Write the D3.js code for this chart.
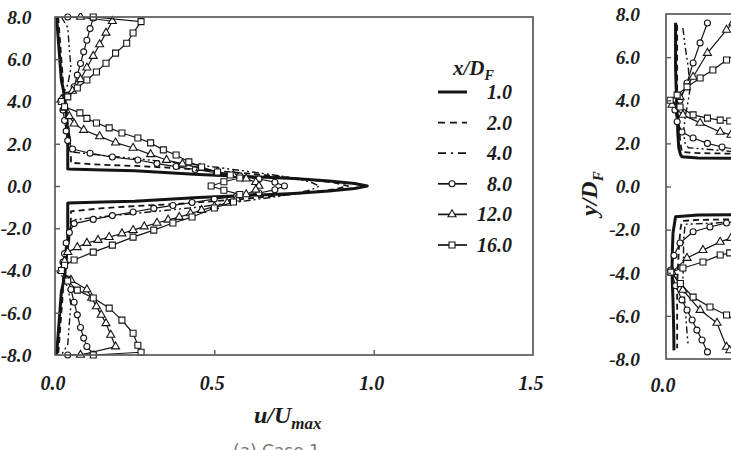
<!DOCTYPE html>
<html><head><meta charset="utf-8">
<script src="https://cdn.jsdelivr.net/npm/d3@7"></script>
<style>body{margin:0;background:#fff;} svg{display:block;}</style>
</head><body>
<svg id="c" width="731" height="450"></svg>
<script>
// ---------- DATA ----------
const seriesLabels = ["1.0", "2.0", "4.0", "8.0", "12.0", "16.0"];
const xTickValues = [0, 0.5, 1.0, 1.5];
const xTickLabels = ["0.0", "0.5", "1.0", "1.5"];
const yTickValues = [8, 6, 4, 2, 0, -2, -4, -6, -8];
const yTickLabels = ["8.0", "6.0", "4.0", "2.0", "0.0", "-2.0", "-4.0", "-6.0", "-8.0"];

// Panel (a) — u/Umax (u) against y/D_F (y)
const a1_y = [8, 7, 6, 5, 4.3, 3.5, 2.5, 1.5, 0.8, 0.76, 0.72, 0.65, 0.55, 0.45, 0.35, 0.24, 0.12, 0, -0.12, -0.24, -0.35, -0.45, -0.55, -0.65, -0.72, -0.76, -0.8, -1.5, -2.5, -3.5, -4.3, -5, -6, -7, -8];
const a1_u = [0.005, 0.01, 0.015, 0.02, 0.03, 0.035, 0.04, 0.04, 0.04, 0.15, 0.25, 0.33, 0.45, 0.6, 0.75, 0.86, 0.94, 0.98, 0.94, 0.86, 0.75, 0.6, 0.45, 0.33, 0.25, 0.15, 0.04, 0.04, 0.04, 0.035, 0.03, 0.02, 0.015, 0.01, 0.005];

const a2_y = [8, 7, 6, 5, 4.3, 3.5, 2.5, 1.5, 1.1, 1.0, 0.95, 0.85, 0.72, 0.6, 0.45, 0.3, 0.15, 0, -0.15, -0.3, -0.45, -0.6, -0.72, -0.85, -0.95, -1.05, -1.2, -1.5, -2.5, -3.5, -4.3, -5, -6, -7, -8];
const a2_u = [0.01, 0.015, 0.02, 0.025, 0.025, 0.035, 0.045, 0.05, 0.05, 0.15, 0.25, 0.38, 0.5, 0.6, 0.7, 0.8, 0.88, 0.92, 0.88, 0.8, 0.7, 0.6, 0.5, 0.38, 0.25, 0.15, 0.05, 0.05, 0.045, 0.035, 0.025, 0.025, 0.02, 0.015, 0.01];

const a3_y = [8, 7.5, 6.5, 5.6, 4.8, 4.2, 3.5, 2.5, 1.8, 1.6, 1.45, 1.3, 1.15, 1.0, 0.8, 0.6, 0.4, 0.2, 0, -0.2, -0.4, -0.6, -0.8, -1.0, -1.15, -1.3, -1.45, -1.6, -1.8, -2.5, -3.5, -4.2, -4.8, -5.6, -6.5, -7.5, -8];
const a3_u = [0.02, 0.04, 0.045, 0.05, 0.04, 0.02, 0.035, 0.045, 0.05, 0.06, 0.15, 0.25, 0.35, 0.45, 0.55, 0.65, 0.74, 0.8, 0.83, 0.8, 0.74, 0.65, 0.55, 0.45, 0.35, 0.25, 0.15, 0.06, 0.05, 0.045, 0.035, 0.02, 0.04, 0.05, 0.045, 0.04, 0.02];

const a4_y = [8.0, 7.95, 7.45, 6.9, 6.35, 5.8, 5.25, 4.7, 4.3, 4.0, 3.6, 3.1, 2.6, 2.15, 1.75, 1.55, 1.37, 1.23, 1.06, 0.92, 0.78, 0.62, 0.48, 0.33, 0.18, 0, -0.18, -0.33, -0.48, -0.62, -0.78, -0.92, -1.06, -1.23, -1.4, -1.58, -1.78, -2.2, -2.7, -3.2, -3.6, -4.0, -4.4, -4.9, -5.5, -6.1, -6.7, -7.2, -7.6, -7.95, -8.0];
const a4_u = [0.04, 0.12, 0.11, 0.1, 0.09, 0.08, 0.07, 0.06, 0.04, 0.02, 0.025, 0.03, 0.035, 0.04, 0.055, 0.11, 0.18, 0.26, 0.32, 0.38, 0.44, 0.51, 0.58, 0.64, 0.69, 0.72, 0.69, 0.64, 0.57, 0.5, 0.43, 0.37, 0.31, 0.245, 0.18, 0.12, 0.06, 0.045, 0.035, 0.03, 0.025, 0.02, 0.04, 0.05, 0.06, 0.07, 0.08, 0.09, 0.1, 0.12, 0.04];

const a5_y = [8.0, 7.8, 7.25, 6.7, 6.15, 5.6, 5.05, 4.5, 4.1, 3.7, 3.3, 2.95, 2.65, 2.35, 2.05, 1.8, 1.5, 1.23, 1.05, 0.85, 0.68, 0.52, 0.35, 0.18, 0, -0.18, -0.4, -0.6, -0.8, -0.97, -1.14, -1.3, -1.47, -1.6, -1.75, -1.92, -2.09, -2.25, -2.42, -2.56, -2.7, -2.9, -3.13, -3.55, -4.0, -4.45, -4.9, -5.3, -5.7, -6.1, -6.5, -7.05, -7.6, -8.0];
const a5_u = [0.08, 0.18, 0.16, 0.14, 0.12, 0.1, 0.08, 0.055, 0.02, 0.03, 0.045, 0.06, 0.09, 0.14, 0.19, 0.245, 0.3, 0.35, 0.4, 0.455, 0.51, 0.56, 0.6, 0.63, 0.64, 0.63, 0.6, 0.57, 0.54, 0.5, 0.46, 0.425, 0.39, 0.355, 0.32, 0.28, 0.245, 0.21, 0.17, 0.135, 0.1, 0.07, 0.04, 0.03, 0.02, 0.05, 0.1, 0.115, 0.13, 0.145, 0.16, 0.175, 0.19, 0.08];

const a6_y = [8.0, 7.78, 7.24, 6.76, 6.29, 5.81, 5.4, 5.02, 4.64, 4.22, 4.0, 3.75, 3.46, 3.2, 2.98, 2.75, 2.51, 2.27, 2.04, 1.71, 1.47, 1.14, 0.9, 0.66, 0.52, 0.38, 0.2, 0, -0.2, -0.4, -0.76, -1.04, -1.47, -1.75, -2.09, -2.42, -2.8, -3.13, -3.5, -3.75, -4.0, -4.5, -4.93, -5.3, -5.78, -6.35, -6.97, -7.54, -7.87, -8.0];
const a6_u = [0.12, 0.27, 0.245, 0.225, 0.19, 0.16, 0.13, 0.1, 0.07, 0.04, 0.02, 0.03, 0.078, 0.1, 0.13, 0.17, 0.21, 0.26, 0.3, 0.34, 0.38, 0.42, 0.46, 0.51, 0.55, 0.58, 0.53, 0.49, 0.53, 0.58, 0.56, 0.5, 0.43, 0.37, 0.31, 0.245, 0.18, 0.12, 0.06, 0.03, 0.02, 0.04, 0.07, 0.12, 0.17, 0.21, 0.245, 0.26, 0.27, 0.12];

// Panel (b) (partly visible at the right edge)
const b1_y = [7.6, 6.5, 5.5, 4.5, 3.5, 2.5, 1.8, 1.5, 1.38, 1.32, 1.3, 1.25, 1.0, 0.5, 0, -0.5, -1.0, -1.25, -1.3, -1.32, -1.4, -2.15, -3.0, -3.74, -4.5, -5.27, -6.5, -7.6];
const b1_u = [0.03, 0.03, 0.03, 0.032, 0.035, 0.037, 0.04, 0.045, 0.05, 0.1, 0.3, 0.5, 0.75, 0.92, 1.0, 0.92, 0.75, 0.5, 0.3, 0.1, 0.03, 0.022, 0.02, 0.019, 0.02, 0.022, 0.024, 0.025];

const b2_y = [7.5, 6, 4.5, 3, 2, 1.6, 1.55, 1.5, 1.2, 0.6, 0, -0.6, -1.2, -1.5, -1.55, -1.6, -2, -3, -4.5, -6, -7.5];
const b2_u = [0.035, 0.035, 0.035, 0.04, 0.045, 0.05, 0.1, 0.3, 0.6, 0.85, 0.93, 0.85, 0.6, 0.3, 0.1, 0.05, 0.045, 0.04, 0.035, 0.035, 0.035];

const b3_y = [7.35, 6.5, 5.5, 4.5, 4.0, 3.2, 2.5, 2.0, 1.8, 1.7, 1.5, 1.0, 0.5, 0, -0.5, -1.0, -1.5, -1.7, -1.75, -2.5, -3.5, -4.3, -5.5, -6.8, -7.4];
const b3_u = [0.053, 0.06, 0.07, 0.075, 0.07, 0.06, 0.055, 0.06, 0.07, 0.15, 0.3, 0.6, 0.8, 0.86, 0.8, 0.6, 0.3, 0.15, 0.06, 0.055, 0.055, 0.053, 0.06, 0.066, 0.07];

const b4_y = [7.58, 6.66, 5.73, 4.8, 4.0, 3.55, 3.0, 2.53, 2.25, 2.0, 1.83, 1.7, 1.5, 1.2, 0.8, 0.4, 0, -0.4, -0.8, -1.2, -1.5, -1.69, -1.88, -2.1, -2.62, -3.2, -3.87, -4.6, -5.26, -5.73, -6.19, -6.66, -7.12, -7.67];
const b4_u = [0.13, 0.107, 0.085, 0.066, 0.044, 0.028, 0.035, 0.05, 0.085, 0.13, 0.176, 0.23, 0.32, 0.45, 0.6, 0.7, 0.74, 0.7, 0.6, 0.45, 0.3, 0.19, 0.138, 0.085, 0.044, 0.025, 0.015, 0.03, 0.05, 0.066, 0.082, 0.097, 0.113, 0.13];

const b5_y = [7.6, 7.26, 6.19, 5.08, 4.15, 3.78, 3.32, 2.95, 2.53, 2.39, 2.1, 1.8, 1.4, 0.9, 0.4, 0, -0.4, -0.9, -1.4, -1.8, -2.1, -2.39, -2.57, -2.95, -3.32, -3.97, -4.8, -5.73, -6.33, -7.44, -7.6];
const b5_u = [0.21, 0.19, 0.13, 0.085, 0.044, 0.019, 0.053, 0.107, 0.17, 0.204, 0.27, 0.34, 0.43, 0.53, 0.6, 0.62, 0.6, 0.53, 0.43, 0.34, 0.27, 0.204, 0.17, 0.116, 0.066, 0.019, 0.053, 0.107, 0.16, 0.19, 0.2];

const b6_y = [7.6, 6.8, 5.87, 5.4, 5.03, 4.62, 4.24, 4.0, 3.69, 3.32, 3.17, 3.08, 3.04, 2.9, 2.5, 2.0, 1.4, 0.7, 0, -0.7, -1.4, -2.0, -2.5, -2.9, -3.08, -3.18, -3.5, -3.78, -3.97, -4.5, -5.13, -5.59, -5.96, -6.5, -7.2, -7.6];
const b6_u = [0.36, 0.29, 0.19, 0.147, 0.107, 0.066, 0.035, 0.013, 0.044, 0.085, 0.13, 0.17, 0.2, 0.26, 0.34, 0.42, 0.48, 0.52, 0.53, 0.52, 0.48, 0.42, 0.34, 0.26, 0.2, 0.17, 0.116, 0.053, 0.015, 0.045, 0.085, 0.138, 0.19, 0.25, 0.31, 0.34];

const panelA = [[a1_u, a1_y], [a2_u, a2_y], [a3_u, a3_y], [a4_u, a4_y], [a5_u, a5_y], [a6_u, a6_y]];
const panelB = [[b1_u, b1_y], [b2_u, b2_y], [b3_u, b3_y], [b4_u, b4_y], [b5_u, b5_y], [b6_u, b6_y]];

// ---------- STYLE ----------
const styles = [
  {w: 3.0, dash: null, marker: null},
  {w: 1.8, dash: "6,4", marker: null},
  {w: 1.4, dash: "7,3,2,3,2,3", marker: null},
  {w: 1.2, dash: null, marker: "circle"},
  {w: 1.2, dash: null, marker: "triangle"},
  {w: 1.2, dash: null, marker: "square"}
];
const ink = "#141414";
const frameColor = "#5a5a5a";
const tickFont = "'Liberation Serif','Times New Roman',serif";

const svg = d3.select("#c");

function drawMarker(g, type, x, y) {
  if (type === "circle") {
    g.append("circle").attr("cx", x).attr("cy", y).attr("r", 3)
      .attr("fill", "#fff").attr("stroke", ink).attr("stroke-width", 1.1);
  } else {
    const sym = type === "triangle" ? d3.symbolTriangle : d3.symbolSquare;
    const size = type === "triangle" ? 28 : 36;
    g.append("path").attr("d", d3.symbol().type(sym).size(size)())
      .attr("transform", `translate(${x},${y})`)
      .attr("fill", "#fff").attr("stroke", ink).attr("stroke-width", 1.1);
  }
}

function drawPanel(id, data, x, y) {
  const clipId = "clip-" + id;
  svg.append("clipPath").attr("id", clipId).append("rect")
    .attr("x", x.range()[0] - 4).attr("y", y.range()[1] - 4)
    .attr("width", x.range()[1] - x.range()[0] + 8)
    .attr("height", y.range()[0] - y.range()[1] + 8);
  const g = svg.append("g").attr("clip-path", `url(#${clipId})`);
  const line = d3.line().x(d => x(d[0])).y(d => y(d[1]));
  data.forEach((s, i) => {
    const pts = s[0].map((u, k) => [u, s[1][k]]);
    const st = styles[i];
    g.append("path").attr("d", line(pts)).attr("fill", "none")
      .attr("stroke", ink).attr("stroke-width", st.w)
      .attr("stroke-linejoin", "round")
      .attr("stroke-dasharray", st.dash);
    if (st.marker) pts.forEach(p => drawMarker(g, st.marker, x(p[0]), y(p[1])));
  });
  svg.append("rect").attr("x", x.range()[0]).attr("y", y.range()[1])
    .attr("width", x.range()[1] - x.range()[0]).attr("height", y.range()[0] - y.range()[1])
    .attr("fill", "none").attr("stroke", frameColor).attr("stroke-width", 1.7);
  const axL = d3.axisRight(y).tickValues(yTickValues.slice(1, -1)).tickSize(5).tickFormat("");
  const gl = svg.append("g").attr("transform", `translate(${x.range()[0]},0)`).call(axL);
  gl.select(".domain").remove();
  gl.selectAll("line").attr("stroke", frameColor).attr("stroke-width", 1.4);
  const axB = d3.axisTop(x).tickValues(xTickValues.slice(1, -1)).tickSize(5).tickFormat("");
  const gb = svg.append("g").attr("transform", `translate(0,${y.range()[0]})`).call(axB);
  gb.select(".domain").remove();
  gb.selectAll("line").attr("stroke", frameColor).attr("stroke-width", 1.4);
}

const xA = d3.scaleLinear().domain([0, 1.5]).range([55, 533]);
const yA = d3.scaleLinear().domain([-8, 8]).range([355, 17]);
drawPanel("a", panelA, xA, yA);

const xB = d3.scaleLinear().domain([0, 1.5]).range([666, 1144]);
const yB = d3.scaleLinear().domain([-8, 8]).range([359, 14]);
drawPanel("b", panelB, xB, yB);

const lab = (sel) => sel.attr("font-family", tickFont).attr("font-weight", "bold")
  .attr("font-style", "italic").attr("fill", "#1c1c1c");

yTickValues.forEach((v, i) => {
  lab(svg.append("text")).attr("x", 31.5).attr("y", yA(v)).attr("dy", "0.35em")
    .attr("text-anchor", "end").attr("font-size", 19.5).text(yTickLabels[i]);
  lab(svg.append("text")).attr("x", 640).attr("y", yB(v)).attr("dy", "0.35em")
    .attr("text-anchor", "end").attr("font-size", 19.5).text(yTickLabels[i]);
});
xTickValues.forEach((v, i) => {
  lab(svg.append("text")).attr("x", xA(v) - 2).attr("y", 390)
    .attr("text-anchor", "middle").attr("font-size", 20).text(xTickLabels[i]);
});
lab(svg.append("text")).attr("x", xB(0) - 3).attr("y", 392)
  .attr("text-anchor", "middle").attr("font-size", 20).text(xTickLabels[0]);

const xt = lab(svg.append("text")).attr("x", 254).attr("y", 423).attr("font-size", 24);
xt.append("tspan").text("u/U");
xt.append("tspan").attr("font-size", 17).attr("dy", 6).text("max");

const yt = lab(svg.append("text")).attr("transform", "translate(597,216) rotate(-90)")
  .attr("font-size", 24);
yt.append("tspan").text("y/D");
yt.append("tspan").attr("font-size", 15).attr("dy", 6).text("F");

const lgTitle = lab(svg.append("text")).attr("x", 453).attr("y", 75).attr("font-size", 21);
lgTitle.append("tspan").text("x/D");
lgTitle.append("tspan").attr("font-size", 14).attr("dy", 5).text("F");
const legY = d3.scalePoint().domain(seriesLabels).range([92, 245]);
seriesLabels.forEach((s, i) => {
  const yy = legY(s);
  const st = styles[i];
  svg.append("line").attr("x1", 438).attr("x2", 467).attr("y1", yy).attr("y2", yy)
    .attr("stroke", ink).attr("stroke-width", i === 0 ? 3 : 1.7)
    .attr("stroke-dasharray", i === 1 ? "7,5" : (i === 2 ? "8,5,2,5" : null));
  if (st.marker) drawMarker(svg, st.marker, 452, yy);
  lab(svg.append("text")).attr("x", 512).attr("y", yy).attr("dy", "0.35em")
    .attr("text-anchor", "end").attr("font-size", 20).text(s);
});

svg.append("text").attr("x", 233).attr("y", 457).attr("font-family", "'DejaVu Sans',sans-serif")
  .attr("font-size", 17).attr("fill", "#777").text("(a) Case 1");
</script>
</body></html>
